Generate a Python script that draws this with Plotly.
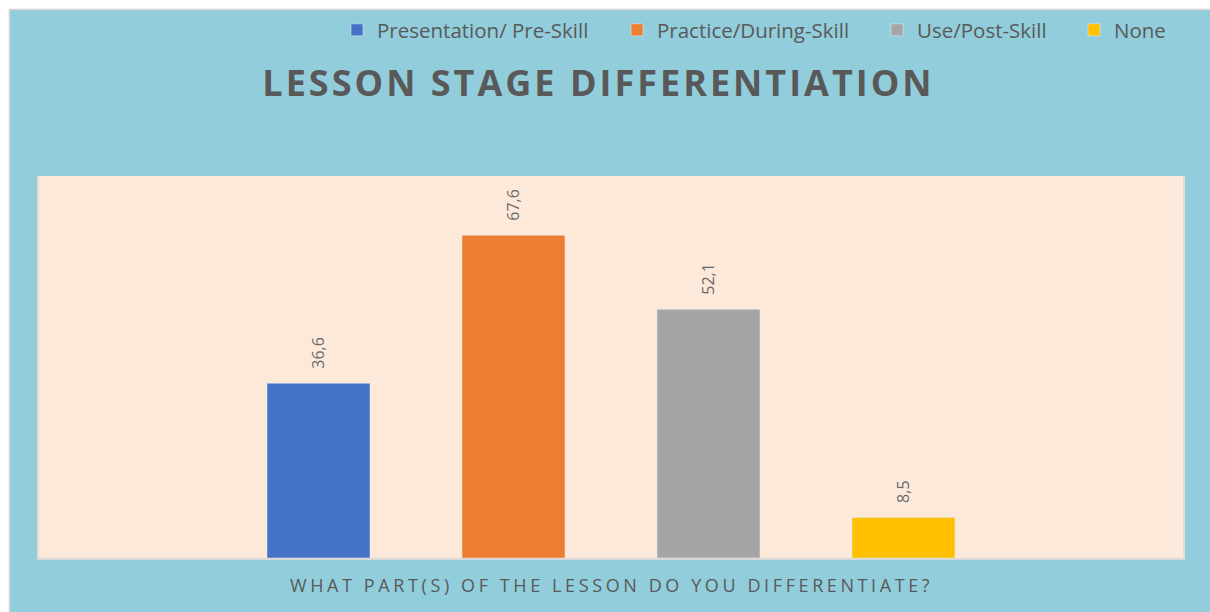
import plotly.graph_objects as go

# ---- data ----
categories = ["Presentation/ Pre-Skill", "Practice/During-Skill", "Use/Post-Skill", "None"]
values = [36.6, 67.6, 52.1, 8.5]
value_labels = ["36,6", "67,6", "52,1", "8,5"]
colors = ["#4472C4", "#ED7D31", "#A5A5A5", "#FFC000"]
title_text = "LESSON STAGE DIFFERENTIATION"
xaxis_title = "WHAT PART(S) OF THE LESSON DO YOU DIFFERENTIATE?"

W, H = 1210, 612
L, R, T, B = 39, 27, 176, 54
PW, PH = W - L - R, H - T - B

def px_x(p):
    return (p - L) / PW

def px_y(p):
    return (H - B - p) / PH

BLUE = "#92CDDC"
PEACH = "#FDE9DA"
TXT = "#595959"

BAR_STEP = 195.0      # px between bar centres
FIRST_CENTER = 318.5  # px of first bar centre

fig = go.Figure()
legend_px = [353, 633, 893, 1090]
for i, (cat, val, col) in enumerate(zip(categories, values, colors)):
    lname = "legend" if i == 0 else f"legend{i+1}"
    fig.add_trace(go.Bar(
        x=[cat], y=[val], name=cat, marker_color=col, width=103 / BAR_STEP,
        legend=lname, showlegend=True, hoverinfo="skip",
    ))
    fig.add_annotation(
        x=cat, y=val, xref="x", yref="y", text=value_labels[i],
        textangle=-90, yanchor="bottom", xanchor="center", yshift=12,
        showarrow=False, font=dict(family="Open Sans", size=16, color="#6A6A6A"),
    )

legend_common = dict(
    xref="container", yref="container", y=1 - 30 / H, yanchor="middle", xanchor="left",
    bgcolor="rgba(0,0,0,0)", font=dict(family="Open Sans", size=20.5, color=TXT),
    orientation="h", itemclick=False, itemdoubleclick=False,
)
legends = {}
for i, p in enumerate(legend_px):
    lname = "legend" if i == 0 else f"legend{i+1}"
    legends[lname] = dict(legend_common, x=(p - 16) / W)

# white page edge and thin gray chart border at the top-left
shapes = [
    dict(type="rect", xref="paper", yref="paper", x0=px_x(-5), x1=px_x(9), y0=px_y(H + 5), y1=px_y(-5),
         fillcolor="white", line=dict(width=0), layer="above"),
    dict(type="rect", xref="paper", yref="paper", x0=px_x(-5), x1=px_x(W + 5), y0=px_y(9), y1=px_y(-5),
         fillcolor="white", line=dict(width=0), layer="above"),
    dict(type="rect", xref="paper", yref="paper", x0=px_x(9.5), x1=px_x(W + 10), y0=px_y(H + 10), y1=px_y(9.5),
         fillcolor="rgba(0,0,0,0)", line=dict(width=1.5, color="#D4D4D4"), layer="above"),
]

fig.add_annotation(
    x=0.5, y=px_y(585), xref="paper", yref="paper", showarrow=False,
    text=f'<span style="letter-spacing:3.6px">{xaxis_title}</span>',
    xanchor="center", yanchor="middle",
    font=dict(family="Open Sans", size=18, color=TXT),
)

fig.update_layout(
    width=W, height=H,
    margin=dict(l=L, r=R, t=T, b=B, pad=0),
    paper_bgcolor=BLUE, plot_bgcolor=PEACH,
    barmode="overlay",
    hovermode=False,
    title=dict(
        text=f'<span style="letter-spacing:3px"><b>{title_text}</b></span>',
        x=598.5 / W, xanchor="center", y=1 - 83 / H, yanchor="middle",
        font=dict(family="Open Sans", size=36, color=TXT),
    ),
    xaxis=dict(
        range=[(L - FIRST_CENTER) / BAR_STEP, (W - R - FIRST_CENTER) / BAR_STEP],
        showticklabels=False, ticks="", showgrid=False, zeroline=False,
        showline=True, linecolor="#D9D9D9", linewidth=2,
        fixedrange=True,
    ),
    yaxis=dict(
        range=[0, 80], showticklabels=False, ticks="", showgrid=False, zeroline=False,
        showline=True, mirror=True, linecolor="#E3DCD6", linewidth=2, fixedrange=True,
    ),
    shapes=shapes,
    **legends,
)

fig.write_html(
    "out.html",
    config={"displayModeBar": False},
    post_script=(
        "document.documentElement.style.overflow='hidden';"
        "document.body.style.overflow='hidden';"
        "document.body.style.margin='0';"
    ),
)
